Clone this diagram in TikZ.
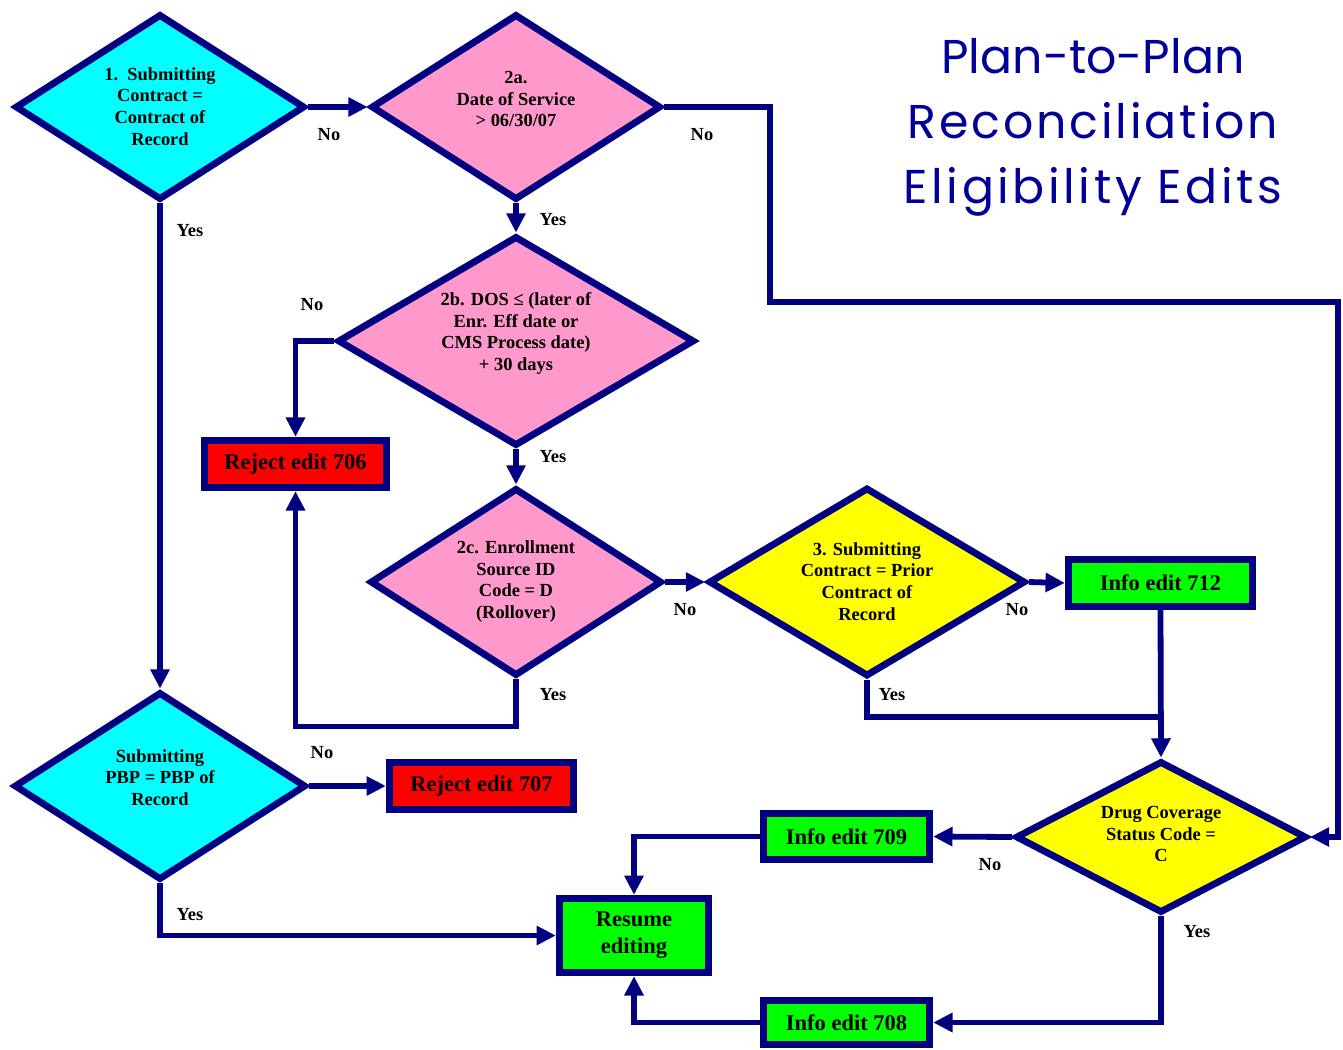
\documentclass[tikz,border=0pt]{standalone}
\usepackage{fontspec}
\setmainfont{Liberation Serif}
\newfontfamily\titlefont{Poppins}
\usetikzlibrary{shapes.geometric,arrows.meta}
\definecolor{navy}{HTML}{000080}
\definecolor{titleblue}{HTML}{000099}
\definecolor{dcyan}{HTML}{00FFFF}
\definecolor{dpink}{HTML}{FF99CC}
\definecolor{dyellow}{HTML}{FFFF00}
\definecolor{bgreen}{HTML}{00FF00}
\definecolor{bred}{HTML}{FF0000}
\begin{document}
\begin{tikzpicture}[x=0.02cm,y=-0.02cm,
  dia/.style={shape=diamond, draw=navy, line width=3.9pt, inner sep=0pt},
  dtext/.style={align=center, inner sep=0pt, font=\bfseries\fontsize{10.5}{12.4}\selectfont},
  ebox/.style={draw=navy, line width=4.2pt, inner sep=0pt, align=center,
    font=\bfseries\fontsize{12.8}{15.3}\selectfont},
  conn/.style={draw=navy, line width=3.3pt, -{Triangle[length=11pt,width=10.5pt]}},
  plain/.style={draw=navy, line width=3.3pt},
  lab/.style={font=\bfseries\fontsize{10.5}{12.5}\selectfont, inner sep=0pt}]
\useasboundingbox (0,0) rectangle (1343,1049);

% title
\node[text=titleblue, font=\titlefont\fontsize{27}{37}\selectfont, align=center] (title) at (1093,127)
  {Plan-to-Plan\\{\addfontfeature{LetterSpace=6}Reconciliation}\\{\addfontfeature{LetterSpace=7.5}Eligibility Edits}};

% decisions (shapes)
\node[dia, fill=dcyan, minimum width=5.8cm, minimum height=3.72cm] (d1) at (160,107) {};
\node[dia, fill=dpink, minimum width=5.8cm, minimum height=3.72cm] (d2a) at (516,107) {};
\node[dia, fill=dpink, minimum width=7.14cm, minimum height=4.2cm] (d2b) at (516,341) {};
\node[dia, fill=dpink, minimum width=5.84cm, minimum height=3.76cm] (d2c) at (516,582) {};
\node[dia, fill=dyellow, minimum width=6.34cm, minimum height=3.78cm] (d3) at (867,582) {};
\node[dia, fill=dcyan, minimum width=5.84cm, minimum height=3.76cm] (d4) at (160,786) {};
\node[dia, fill=dyellow, minimum width=5.82cm, minimum height=3.04cm] (d5) at (1161,837) {};

% decision texts
\node[dtext] (t1) at (160,106.5) {1.\ \ Submitting\\Contract =\\Contract of\\Record};
\node[dtext] (t2a) at (516,99) {2a.\\Date of Service\\> 06/30/07};
\node[dtext] (t2b) at (516,333.5) {2b. DOS ≤ (later of\\Enr. Eff date or\\CMS Process date)\\+ 30 days};
\node[dtext] (t2c) at (516,581.5) {2c. Enrollment\\Source ID\\Code = D\\(Rollover)};
\node[dtext] (t3) at (867,581.5) {3. Submitting\\Contract = Prior\\Contract of\\Record};
\node[dtext] (t4) at (160,777.5) {Submitting\\PBP = PBP of\\Record};
\node[dtext] (t5) at (1161,834) {Drug Coverage\\Status Code =\\C};

% boxes
\node[ebox, fill=bred, minimum width=3.64cm, minimum height=0.94cm] (r706) at (295.5,464) {Reject edit 706};
\node[ebox, fill=bred, minimum width=3.68cm, minimum height=0.94cm] (r707) at (481.5,786) {Reject edit 707};
\node[ebox, fill=bgreen, minimum width=3.68cm, minimum height=0.94cm] (i712) at (1160.5,583) {Info edit 712};
\node[ebox, fill=bgreen, minimum width=3.32cm, minimum height=0.92cm] (i709) at (846.5,836.5) {Info edit 709};
\node[ebox, fill=bgreen, minimum width=3.32cm, minimum height=0.88cm] (i708) at (846.5,1022.5) {Info edit 708};
\node[ebox, fill=bgreen, minimum width=2.98cm, minimum height=1.48cm] (res) at (634,935.5) {Resume\\editing};

% helper coordinates
\coordinate (c1) at (770,302);
\coordinate (c2) at (1338,302);
\coordinate (j) at (1160,717);

% connectors
\draw[conn] (d1.east) -- (d2a.west);
\draw[conn] (d1.south) -- (d4.north);
\draw[conn] (d2a.east) -| (c1) -- (c2) |- (d5.east);
\draw[conn] (d2a.south) -- (d2b.north);
\draw[conn] (d2b.west) -| (r706.north);
\draw[conn] (d2b.south) -- (d2c.north);
\draw[conn] (d2c.south) -- ++(0,47) -| (r706.south);
\draw[conn] (d2c.east) -- (d3.west);
\draw[conn] (d3.east) -- (i712.west);
\draw[plain] (d3.south) |- (j);
\draw[conn] (i712.south) -- (d5.north);
\draw[conn] (d4.east) -- (r707.west);
\draw[conn] (d4.south) |- (res.west);
\draw[conn] (d5.west) -- (i709.east);
\draw[conn] (i709.west) -| (res.north);
\draw[conn] (d5.south) |- (i708.east);
\draw[conn] (i708.west) -| (res.south);

% labels
\node[lab] (l1) at (329,135) {No};
\node[lab] (l2) at (190,231) {Yes};
\node[lab] (l3) at (702,135) {No};
\node[lab] (l4) at (553,220) {Yes};
\node[lab] (l5) at (312,305) {No};
\node[lab] (l6) at (553,457) {Yes};
\node[lab] (l7) at (553,695) {Yes};
\node[lab] (l8) at (685,610) {No};
\node[lab] (l9) at (1017,610) {No};
\node[lab] (l10) at (892,695) {Yes};
\node[lab] (l11) at (322,753) {No};
\node[lab] (l12) at (190,915) {Yes};
\node[lab] (l13) at (990,865) {No};
\node[lab] (l14) at (1197,932) {Yes};
\end{tikzpicture}
\end{document}
